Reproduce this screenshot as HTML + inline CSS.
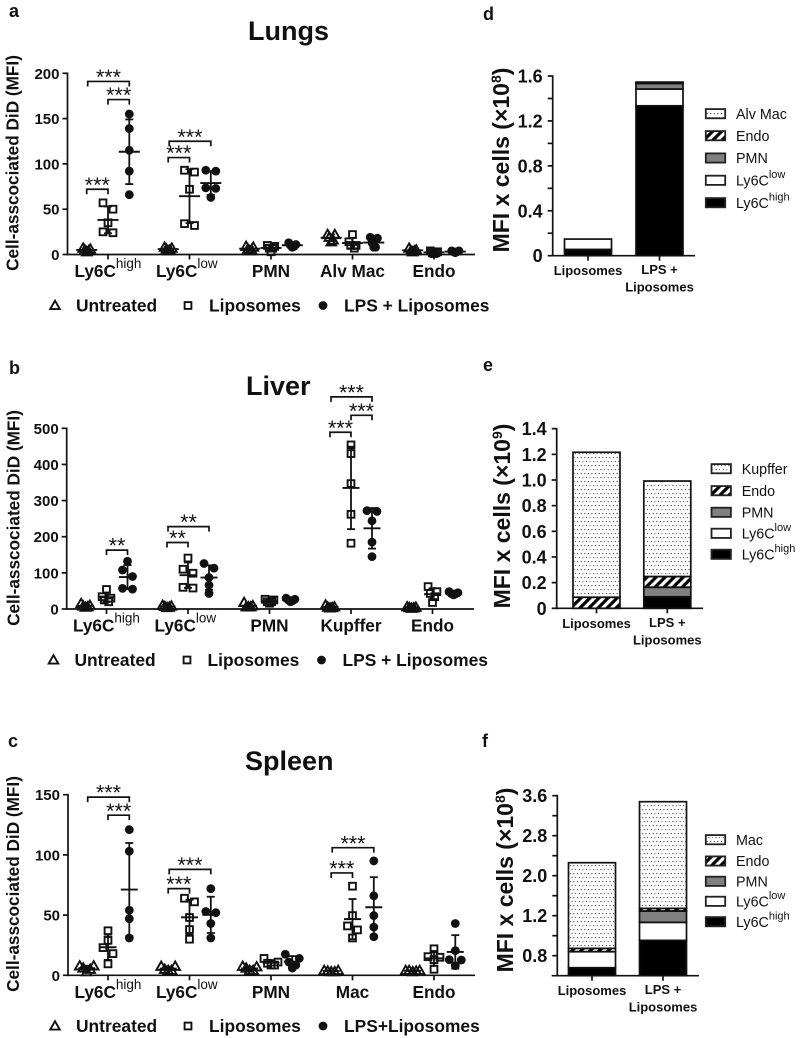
<!DOCTYPE html>
<html lang="en">
<head>
<meta charset="utf-8">
<title>Cell-associated DiD by organ</title>
<style>
html,body{margin:0;padding:0;background:#fff}
svg{display:block}
text{font-family:"Liberation Sans",Arial,sans-serif;fill:#111}
.b{font-weight:700}
</style>
</head>
<body>
<svg id="figure" xmlns="http://www.w3.org/2000/svg" width="800" height="1038" viewBox="0 0 800 1038">
<defs>
<pattern id="dots" width="7.2" height="8" patternUnits="userSpaceOnUse">
<rect x="1" y="1" width="1.1" height="1.1" fill="#444"/>
<rect x="4.6" y="1" width="1.1" height="1.1" fill="#444"/>
<rect x="2.8" y="5" width="1.1" height="1.1" fill="#444"/>
<rect x="6.4" y="5" width="0.8" height="1.1" fill="#444"/>
</pattern>
<pattern id="hatch" width="6.4" height="6.4" patternUnits="userSpaceOnUse" patternTransform="rotate(45)">
<rect width="3.2" height="6.4" fill="#000"/>
</pattern>
</defs>
<rect width="800" height="1038" fill="#fff"/>
<text class="b" x="9" y="17" font-size="18">a</text>
<text class="b" x="9" y="374" font-size="18">b</text>
<text class="b" x="8" y="747" font-size="18">c</text>
<text class="b" x="483" y="20" font-size="18">d</text>
<text class="b" x="483" y="371" font-size="18">e</text>
<text class="b" x="482" y="747" font-size="18">f</text>
<text class="b" x="248" y="40" font-size="27">Lungs</text>
<text class="b" x="246" y="395" font-size="27">Liver</text>
<text class="b" x="245" y="770" font-size="27">Spleen</text>
</svg>
<script>
// ---------- Panel a: Lungs ----------
const lungsCategories = ['Ly6C^high', 'Ly6C^low', 'PMN', 'Alv Mac', 'Endo'];
const lungsTicks = [0, 50, 100, 150, 200];
const lungsUntreated = [[5,6,4,7,3],[6,8,5,7,4],[8,6,5,4,9],[22,22,19,14,16],[7,5,4,3,4]];
const lungsLiposomes = [[57,50,35,25,24],[93,91,72,34,32],[10,9,7,7,3],[22,14,10,10,7],[2,3,1,4,2]];
const lungsLPS = [[155,139,115,92,66],[93,92,73.5,73,63],[13,11,10,9,8],[19,18,13,8,8],[4,4,3,3,2]];
const lungsBrackets = [[0,0,2,191,'***'],[0,1,2,171,'***'],[0,0,1,72,'***'],[1,0,2,125,'***'],[1,0,1,107,'***']];
const lungsLegend = ['Untreated', 'Liposomes', 'LPS + Liposomes'];

// ---------- Panel b: Liver ----------
const liverCategories = ['Ly6C^high', 'Ly6C^low', 'PMN', 'Kupffer', 'Endo'];
const liverTicks = [0, 100, 200, 300, 400, 500];
const liverUntreated = [[15,10,8,6,5],[10,8,7,5,4],[18,9,6,6,6],[11,6,5,4,3],[6,5,4,3,2]];
const liverLiposomes = [[54,34,30,25,20],[141,110,99,60,58],[27,25,20,20,16],[454,430,347,262,182],[62,48,43,34,18]];
const liverLPS = [[132,108,90,57,55],[126,113,87,66,43],[30,27,25,23,20],[272,270,244,185,145],[48,45,43,42,39]];
const liverBrackets = [[0,1,2,163,'**'],[1,0,2,228,'**'],[1,0,1,184,'**'],[3,0,2,587,'***'],[3,1,2,536,'***'],[3,0,1,489,'***']];
const liverLegend = ['Untreated', 'Liposomes', 'LPS + Liposomes'];

// ---------- Panel c: Spleen ----------
const spleenCategories = ['Ly6C^high', 'Ly6C^low', 'PMN', 'Mac', 'Endo'];
const spleenTicks = [0, 50, 100, 150];
const spleenUntreated = [[7.8,7.8,6,5,3],[7.5,7.5,5,4,4],[7.5,7,6,4,4],[4,4,3.5,3,3],[4,4,3.5,4,3]];
const spleenLiposomes = [[37,29,23,18,9.5],[64,61,48,38,30],[14,11,10,8.5,8.5],[74,49.6,41,37.7,31],[22,15.5,15,13,5]];
const spleenLPS = [[121,103,54,47,31],[72,53,52,43,31],[17.5,14,11,8.5,6],[95,66,49.6,40,32],[43,20.5,13,12.7,8]];
const spleenBrackets = [[0,0,2,148,'***'],[0,1,2,133,'***'],[1,0,2,88,'***'],[1,0,1,72,'***'],[3,0,2,106,'***'],[3,0,1,85,'***']];
const spleenLegend = ['Untreated', 'Liposomes', 'LPS+Liposomes'];

// ---------- Panel d: stacked bars, lungs ----------
const dBars = ['Liposomes', 'LPS +|Liposomes'];
const dSegments = ['Ly6C^high', 'Ly6C^low', 'PMN', 'Endo', 'Alv Mac'];
const dLiposomes = [0.056, 0.092, 0, 0, 0];
const dLPS = [1.335, 0.149, 0.05, 0.002, 0.01];
const dTicks = [0, 0.2, 0.4, 0.6, 0.8, 1.0, 1.2, 1.4, 1.6];
const dTickLabels = ['0', '', '0.4', '', '0.8', '', '1.2', '', '1.6'];

// ---------- Panel e: stacked bars, liver ----------
const eBars = ['Liposomes', 'LPS +|Liposomes'];
const eSegments = ['Ly6C^high', 'Ly6C^low', 'PMN', 'Endo', 'Kupffer'];
const eLiposomes = [0, 0, 0, 0.086, 1.13];
const eLPS = [0.09, 0, 0.074, 0.083, 0.745];
const eTicks = [0, 0.2, 0.4, 0.6, 0.8, 1.0, 1.2, 1.4];
const eTickLabels = ['0', '0.2', '0.4', '0.6', '0.8', '1.0', '1.2', '1.4'];

// ---------- Panel f: stacked bars, spleen ----------
const fBars = ['Liposomes', 'LPS +|Liposomes'];
const fSegments = ['Ly6C^high', 'Ly6C^low', 'PMN', 'Endo', 'Mac'];
const fLiposomes = [0.16, 0.32, 0, 0.067, 1.713];
const fLPS = [0.707, 0.36, 0.226, 0.054, 2.133];
const fTicks = [0.4, 0.8, 1.2, 1.6, 2.0, 2.4, 2.8, 3.2, 3.6];
const fTickLabels = ['0.8', '', '1.2', '', '2.0', '', '2.8', '', '3.6'];

const NS = 'http://www.w3.org/2000/svg';
const svg = document.getElementById('figure');

function mk(tag, attrs, parent, name) {
  const el = document.createElementNS(NS, tag);
  for (const k in attrs) el.setAttribute(k, attrs[k]);
  
  
  (parent || svg).appendChild(el);
  return el;
}

function line(parent, name, x1, y1, x2, y2, w) {
  return mk('line', {x1, y1, x2, y2, stroke: '#111', 'stroke-width': w || 1.7}, parent, name);
}

// Renders "Base^sup" as text plus a raised tspan.
function labelText(parent, name, str, x, y, size, supSize, bold, anchor) {
  const t = mk('text', {x, y, 'font-size': size, 'text-anchor': anchor || 'start'}, parent, name);
  if (bold) t.setAttribute('class', 'b');
  const parts = str.split('^');
  t.appendChild(document.createTextNode(parts[0]));
  if (parts[1]) {
    const s = mk('tspan', {dy: -size * 0.52, 'font-size': supSize, 'font-weight': 400}, t, name + '-superscript');
    s.textContent = parts[1];
  }
  return t;
}

function mean(v) { return v.reduce((a, b) => a + b, 0) / v.length; }
function sd(v) {
  const m = mean(v);
  return Math.sqrt(v.reduce((a, b) => a + (b - m) * (b - m), 0) / (v.length - 1));
}

// Prism-like swarm: values that collide vertically form a cluster which is spread symmetrically.
function swarm(values, yScale, step) {
  const order = values.map((v, i) => i).sort((a, b) => values[b] - values[a]);
  const out = [];
  let cluster = [];
  const flush = () => {
    const n = cluster.length;
    if (n === 1) out[cluster[0]] = 0;
    if (n === 2) { out[cluster[0]] = -5; out[cluster[1]] = 5; }
    if (n === 3) { out[cluster[0]] = -6; out[cluster[1]] = 6; out[cluster[2]] = 0; }
    if (n >= 4) {
      const seq = [];
      for (let k = Math.floor(n / 2); k >= 1; k--) { seq.push(-k * step * (n % 2 ? 1 : 1)); seq.push(k * step); }
      if (n % 2) seq.push(0);
      cluster.forEach((idx, k) => { out[idx] = seq[k]; });
    }
    cluster = [];
  };
  order.forEach((i, pos) => {
    if (pos > 0 && Math.abs(yScale(values[i]) - yScale(values[order[pos - 1]])) >= 7) flush();
    cluster.push(i);
  });
  flush();
  return out;
}

function marker(parent, kind, x, y, name) {
  if (kind === 0) {
    const r = 4.8;
    mk('path', {d: `M${x} ${y - r}L${x + r} ${y + r * 0.75}L${x - r} ${y + r * 0.75}Z`, fill: 'none', stroke: '#111', 'stroke-width': 1.9}, parent, name);
  } else if (kind === 1) {
    mk('rect', {x: x - 3.4, y: y - 3.4, width: 6.8, height: 6.8, fill: 'none', stroke: '#111', 'stroke-width': 1.9}, parent, name);
  } else {
    mk('circle', {cx: x, cy: y, r: 4.4, fill: '#111'}, parent, name);
  }
}

function scatterPanel(c) {
  const g = mk('g', {}, svg, c.name + '-panel');
  const y = v => c.y0 - v * (c.y0 - c.yTop) / c.yMax;
  const xCat = i => c.cat0 + i * c.catStep;
  const xGroup = (i, s) => xCat(i) + (s - 1) * c.offset;

  line(g, c.name + '-y-axis', c.axisX, c.y0 + 0.8, c.axisX, c.yTop - 0.8);
  line(g, c.name + '-x-axis', c.axisX, c.y0, c.axisEnd, c.y0);
  c.ticks.forEach(t => {
    line(g, c.name + '-y-tick', c.axisX - 5, y(t), c.axisX, y(t));
    const lab = mk('text', {x: c.axisX - 8, y: y(t) + 5.5, 'font-size': 15, 'text-anchor': 'end', class: 'b'}, g, c.name + '-y-tick-label');
    lab.textContent = t;
  });
  c.categories.forEach((label, i) => {
    line(g, c.name + '-x-tick', xCat(i), c.y0, xCat(i), c.y0 + 5);
    const sup = label.indexOf('^') >= 0;
    labelText(g, c.name + '-x-tick-label', label, sup ? xCat(i) - 33.5 : xCat(i), c.y0 + 22.5, 17.2, 13.5, true, sup ? 'start' : 'middle');
  });
  const title = mk('text', {transform: `translate(${c.titleX} ${c.titleY}) rotate(-90)`, 'font-size': 17.2, 'text-anchor': 'middle', class: 'b'}, g, c.name + '-y-axis-title');
  title.textContent = 'Cell-asscociated DiD (MFI)';

  c.series.forEach((rows, s) => {
    rows.forEach((vals, i) => {
      const cx = xGroup(i, s);
      const off = swarm(vals, y, c.step);
      vals.forEach((v, k) => marker(g, s, cx + off[k], y(v), c.name + '-point'));
      const m = mean(vals), d = sd(vals);
      line(g, c.name + '-mean-line', cx - c.meanHalf, y(m), cx + c.meanHalf, y(m), 1.9);
      line(g, c.name + '-error-bar', cx, y(m + d), cx, y(Math.max(0, m - d)), 1.8);
      line(g, c.name + '-error-cap', cx - 4, y(m + d), cx + 4, y(m + d), 1.8);
      line(g, c.name + '-error-cap', cx - 4, y(Math.max(0, m - d)), cx + 4, y(Math.max(0, m - d)), 1.8);
    });
  });

  c.brackets.forEach(b => {
    const x1 = xGroup(b[0], b[1]) + (b[2] - b[1] === 2 ? 1 : 0), x2 = xGroup(b[0], b[2]), yy = y(b[3]);
    mk('path', {d: `M${x1} ${yy + 5}V${yy}H${x2}V${yy + 5}`, fill: 'none', stroke: '#111', 'stroke-width': 1.7}, g, c.name + '-significance-bracket');
    const t = mk('text', {x: (x1 + x2) / 2, y: yy + 2.6, 'font-size': 21.5, 'text-anchor': 'middle'}, g, c.name + '-significance-stars');
    t.textContent = b[4];
  });

  const lx = c.legendX;
  const names = ['untreated', 'liposomes', 'lps-liposomes'];
  c.legend.forEach((txt, i) => {
    marker(g, i, lx[i][0], c.legendY, c.name + '-legend-marker-' + names[i]);
    const t = mk('text', {x: lx[i][1], y: c.legendY + 6, 'font-size': 17.4, class: 'b'}, g, c.name + '-legend-entry-' + names[i]);
    t.textContent = txt;
  });
}

function fillFor(seg) {
  if (seg === 0) return '#000';
  if (seg === 1) return '#fff';
  if (seg === 2) return '#808080';
  if (seg === 3) return 'url(#hatch)';
  return 'url(#dots)';
}

function barPanel(c) {
  const g = mk('g', {}, svg, c.name + '-panel');
  const y = v => c.y0 - v * c.pxPerUnit;
  line(g, c.name + '-y-axis', c.axisX, c.y0 + 0.8, c.axisX, y(c.ticks[c.ticks.length - 1]) - 0.8);
  line(g, c.name + '-x-axis', c.axisStart, c.y0, c.axisEnd, c.y0);
  c.ticks.forEach((t, i) => {
    line(g, c.name + '-y-tick', c.axisX - 5, y(t), c.axisX, y(t));
    if (c.tickLabels[i]) {
      const lab = mk('text', {x: c.axisX - 10, y: y(t) + 6.5, 'font-size': 18, 'text-anchor': 'end', class: 'b'}, g, c.name + '-y-tick-label');
      lab.textContent = c.tickLabels[i];
    }
  });
  const title = mk('text', {transform: `translate(${c.titleX} ${c.titleY}) rotate(-90)`, 'font-size': 23, 'text-anchor': 'middle', class: 'b'}, g, c.name + '-y-axis-title');
  title.appendChild(document.createTextNode('MFI x cells (×10'));
  const sup = mk('tspan', {dy: -8, 'font-size': 14}, title, c.name + '-y-axis-exponent');
  sup.textContent = c.exponent;
  const close = mk('tspan', {dy: 8}, title, c.name + '-y-axis-title-close');
  close.textContent = ')';

  c.values.forEach((vals, b) => {
    let acc = 0;
    const cx = c.barX[b];
    vals.forEach((v, s) => {
      if (v > 0) {
        mk('rect', {x: cx - 23.5, y: y(acc + v), width: 47, height: v * c.pxPerUnit, fill: fillFor(s), stroke: '#111', 'stroke-width': 1.7}, g, c.name + '-bar-' + (b + 1) + '-segment-' + (s + 1));
      }
      acc += v;
    });
    line(g, c.name + '-x-tick', cx, c.y0, cx, c.y0 + 5);
    const parts = c.bars[b].split('|');
    parts.forEach((p, k) => {
      const t = mk('text', {x: cx, y: c.y0 + (parts.length > 1 ? 18.5 + k * 17.5 : 19.5), 'font-size': 13, 'text-anchor': 'middle', class: 'b'}, g, c.name + '-x-tick-label');
      t.textContent = p;
    });
  });

  const rev = c.segments.map((s, i) => i).reverse();
  rev.forEach((s, row) => {
    const yy = c.legendRows[row];
    mk('rect', {x: c.legendX + 0.8, y: yy - 4.6, width: 19.4, height: 9.2, fill: fillFor(s), stroke: '#222', 'stroke-width': 1.8}, g, c.name + '-legend-swatch');
    labelText(g, c.name + '-legend-entry', c.segments[s], c.legendX + 31, yy + 5.2, 14.3, 11, false);
  });
}

scatterPanel({name: 'lungs', axisX: 67.5, y0: 254.5, yTop: 73.3, yMax: 200, axisEnd: 475, cat0: 108, catStep: 81.5, offset: 21.3,
  categories: lungsCategories, ticks: lungsTicks, series: [lungsUntreated, lungsLiposomes, lungsLPS], brackets: lungsBrackets,
  meanHalf: 10.5, step: 1.8, titleX: 18.5, titleY: 163, legend: lungsLegend, legendY: 305.5, legendX: [[55, 76], [188, 209], [323, 344]]});

scatterPanel({name: 'liver', axisX: 66.7, y0: 609, yTop: 428.3, yMax: 500, axisEnd: 474, cat0: 106.5, catStep: 81.5, offset: 21,
  categories: liverCategories, ticks: liverTicks, series: [liverUntreated, liverLiposomes, liverLPS], brackets: liverBrackets,
  meanHalf: 8.5, step: 2.2, titleX: 19.5, titleY: 518, legend: liverLegend, legendY: 660, legendX: [[53.5, 74.5], [187, 207.5], [321.5, 342.5]]});

scatterPanel({name: 'spleen', axisX: 68, y0: 975.3, yTop: 794.7, yMax: 150, axisEnd: 475, cat0: 108, catStep: 81.5, offset: 21.3,
  categories: spleenCategories, ticks: spleenTicks, series: [spleenUntreated, spleenLiposomes, spleenLPS], brackets: spleenBrackets,
  meanHalf: 8.5, step: 3.5, titleX: 19, titleY: 884, legend: spleenLegend, legendY: 1026, legendX: [[55, 76], [188, 209], [323, 344]]});

barPanel({name: 'lungs-bars', axisX: 552.7, axisStart: 552.7, axisEnd: 695, y0: 255.7, pxPerUnit: 112.3, ticks: dTicks, tickLabels: dTickLabels,
  titleX: 509, titleY: 160, exponent: '8', barX: [588, 659.5], bars: dBars, values: [dLiposomes, dLPS], segments: dSegments,
  legendX: 705, legendRows: [113.7, 135.7, 158, 180.3, 202.7]});

barPanel({name: 'liver-bars', axisX: 556.7, axisStart: 556.7, axisEnd: 703, y0: 608.3, pxPerUnit: 128.3, ticks: eTicks, tickLabels: eTickLabels,
  titleX: 510, titleY: 516, exponent: '9', barX: [596.5, 667.3], bars: eBars, values: [eLiposomes, eLPS], segments: eSegments,
  legendX: 710.7, legendRows: [468.7, 490.7, 512.3, 533.3, 554.3]});

barPanel({name: 'spleen-bars', axisX: 557.3, axisStart: 551.7, axisEnd: 699, y0: 975.7, pxPerUnit: 50, ticks: fTicks, tickLabels: fTickLabels,
  titleX: 513, titleY: 880, exponent: '8', barX: [592, 663], bars: fBars, values: [fLiposomes, fLPS], segments: fSegments,
  legendX: 705, legendRows: [839.7, 861, 881.3, 901.3, 921.7]});
</script>
</body>
</html>
